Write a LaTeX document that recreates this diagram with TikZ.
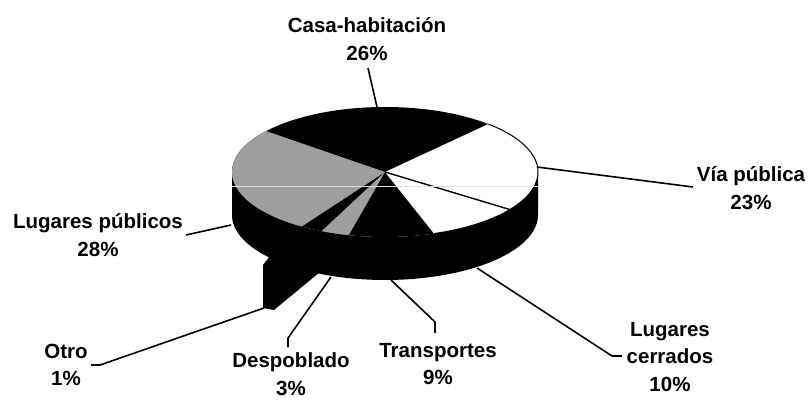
\documentclass[tikz,border=0pt]{standalone}
\usepackage{fontspec}
\setmainfont{Liberation Sans}
\definecolor{speck}{gray}{0.62}
\newcommand{\pcx}{385}
\newcommand{\pcy}{172}
\newcommand{\prx}{153}
\newcommand{\pry}{65}
\newcommand{\pdz}{43}
\newcommand{\psector}[3]{\fill[#1] (\pcx,\pcy) -- plot[domain=#2:#3,samples=50] ({\pcx+\prx*cos(\x)},{\pcy-\pry*sin(\x)}) -- cycle;}
\begin{document}
\begin{tikzpicture}[x=1pt,y=-1pt,
  lbl/.style={font=\bfseries\fontsize{20.5}{27.5}\selectfont, align=center, inner sep=0pt},
  leader/.style={line width=1.6pt, black, line join=round}]
\useasboundingbox (0,0) rectangle (811,401);
% side of the pie
\fill[black] plot[domain=180:360,samples=80] ({\pcx+\prx*cos(\x)},{\pcy-\pry*sin(\x)})
  -- plot[domain=360:180,samples=80] ({\pcx+\prx*cos(\x)},{\pcy+\pdz-\pry*sin(\x)}) -- cycle;
% top face base (black)
\fill[black] (\pcx,\pcy) ellipse[x radius=\prx, y radius=\pry];
% slices on the top face
\psector{white}{-71.3}{47.5}
\psector{speck}{141}{237}
\psector{speck}{245.5}{256.3}
% separator between Via publica and Lugares cerrados
\coordinate (C) at (\pcx,\pcy);
\coordinate (S1) at ({\pcx+\prx*cos(-35.3)},{\pcy-\pry*sin(-35.3)});
\draw[line width=1.4pt] (C) -- (S1);
% rim outline of the white part
\draw[line width=1pt] plot[domain=-71.3:47.5,samples=60] ({\pcx+\prx*cos(\x)},{\pcy-\pry*sin(\x)});
% exploded "Otro" piece
\fill[black] (263,265) -- (270,256) -- (292,262) -- (320,272) -- (274,310) -- (263,308) -- cycle;
% scan line
\draw[gray!25, line width=0.7pt] (232,186) -- (538,186);
% leaders
\coordinate (casaP) at (377,107); \coordinate (casaL) at (368,68);
\coordinate (viaP) at (537,167); \coordinate (viaL) at (693,187);
\coordinate (lpP) at (231,225); \coordinate (lpL) at (186,235);
\coordinate (otroP) at (264,308); \coordinate (otroK) at (100,365); \coordinate (otroL) at (91,365);
\coordinate (despP) at (331,277); \coordinate (despK) at (288,338); \coordinate (despL) at (288,347);
\coordinate (trP) at (391,280); \coordinate (trK) at (435,322); \coordinate (trL) at (435,333);
\coordinate (ceP) at (477,268); \coordinate (ceK) at (612,356); \coordinate (ceL) at (622,356);
\draw[leader] (casaP) -- (casaL);
\draw[leader] (viaP) -- (viaL);
\draw[leader] (lpP) -- (lpL);
\draw[leader] (otroP) -- (otroK) -- (otroL);
\draw[leader] (despP) -- (despK) -- (despL);
\draw[leader] (trP) -- (trK) -- (trL);
\draw[leader] (ceP) -- (ceK) -- (ceL);
% labels
\node[lbl] (casa) at (367,39) {Casa-habitación\\26\%};
\node[lbl] (via) at (751,188) {Vía pública\\23\%};
\node[lbl] (lp) at (98,235) {Lugares públicos\\28\%};
\node[lbl] (otro) at (66,365) {Otro\\1\%};
\node[lbl] (desp) at (291,374) {Despoblado\\3\%};
\node[lbl] (tr) at (438,364) {Transportes\\9\%};
\node[lbl] (ce) at (670,357) {Lugares\\cerrados\\10\%};
\end{tikzpicture}
\end{document}
